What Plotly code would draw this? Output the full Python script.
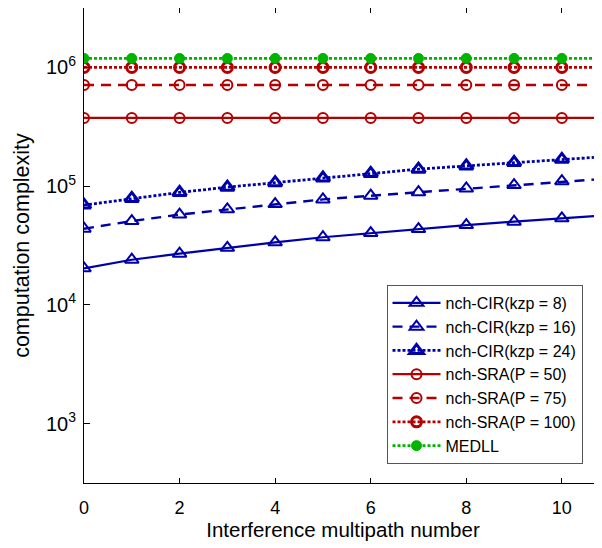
import plotly.graph_objects as go

x = [0, 1, 2, 3, 4, 5, 6, 7, 8, 9, 10, 11]
cir_kzp8 = [2.03e4, 2.40e4, 2.70e4, 3.02e4, 3.36e4, 3.71e4, 4.02e4, 4.35e4, 4.70e4, 5.02e4, 5.36e4, 5.70e4]
cir_kzp16 = [4.38e4, 5.08e4, 5.76e4, 6.38e4, 7.06e4, 7.73e4, 8.30e4, 8.90e4, 9.55e4, 1.02e5, 1.10e5, 1.16e5]
cir_kzp24 = [6.92e4, 7.88e4, 8.85e4, 9.80e4, 1.07e5, 1.17e5, 1.28e5, 1.39e5, 1.48e5, 1.58e5, 1.68e5, 1.78e5]
sra_p50 = [3.75e5] * 12
sra_p75 = [7.1e5] * 12
sra_p100 = [1.0e6] * 12
medll = [1.19e6] * 12

names = ["nch-CIR(kzp = 8)", "nch-CIR(kzp = 16)", "nch-CIR(kzp = 24)",
         "nch-SRA(P = 50)", "nch-SRA(P = 75)", "nch-SRA(P = 100)", "MEDLL"]

ytick_vals = [1e3, 1e4, 1e5, 1e6]
ytick_text = ["10<sup>3</sup>", "10<sup>4</sup>", "10<sup>5</sup>", "10<sup>6</sup>"]
xtick_vals = [0, 2, 4, 6, 8, 10]

BLUE = "#0000AA"
RED = "#B40000"
GREEN = "#00B400"
DASH = "10px,7px"
DOT = "3px,2px"

styles = [
    (cir_kzp8, BLUE, "solid", "triangle-up-open", 12, 2, 2.2),
    (cir_kzp16, BLUE, DASH, "triangle-up-open", 12, 2, 2.4),
    (cir_kzp24, BLUE, DOT, "triangle-up-open", 12, 3, 2.8),
    (sra_p50, RED, "solid", "circle-open", 10, 2, 2.2),
    (sra_p75, RED, DASH, "circle-open", 10, 2, 2.4),
    (sra_p100, RED, DOT, "circle-open", 10, 3, 2.8),
    (medll, GREEN, DOT, "circle", 10, 1, 2.8),
]

fig = go.Figure()
for name, (ys, col, dash, sym, msize, mlw, lw) in zip(names, styles):
    fig.add_trace(go.Scatter(
        x=x, y=ys, name=name, mode="lines+markers",
        line=dict(color=col, width=lw, dash=dash),
        marker=dict(symbol=sym, size=msize, color=col, line=dict(color=col, width=mlw)),
    ))

font_family = "Liberation Sans, Arial, sans-serif"
# page body has an 8px default margin, so the figure is sized/offset to compensate
fig.update_layout(
    width=594, height=540,
    margin=dict(l=76, r=0, t=0, b=65, autoexpand=False),
    plot_bgcolor="white", paper_bgcolor="white",
    font=dict(family=font_family, color="black", size=17),
    legend=dict(
        x=0.584, y=0.417, xanchor="left", yanchor="top",
        bgcolor="white", bordercolor="#555555", borderwidth=1,
        font=dict(size=16, family=font_family, color="black"),
        itemwidth=48, tracegroupgap=0,
    ),
    showlegend=True,
)
fig.update_xaxes(
    range=[0, 10.84], tickvals=xtick_vals, automargin=False,
    ticks="inside", ticklen=5, tickcolor="black", ticklabelstandoff=8,
    showline=True, linecolor="black", linewidth=1, mirror="ticks",
    showgrid=False, zeroline=False,
    tickfont=dict(size=18),
    title=dict(text="Interference multipath number", font=dict(size=20.5), standoff=5),
)
fig.update_yaxes(
    type="log", range=[2.5, 6.5], tickvals=ytick_vals, ticktext=ytick_text,
    automargin=False,
    ticks="inside", ticklen=6, tickcolor="black", ticklabelstandoff=3,
    showline=True, linecolor="black", linewidth=1, mirror=False,
    showgrid=False, zeroline=False,
    tickfont=dict(size=20),
    title=dict(text="computation complexity", font=dict(size=21.5), standoff=10),
)

fig.write_html("out.html")
